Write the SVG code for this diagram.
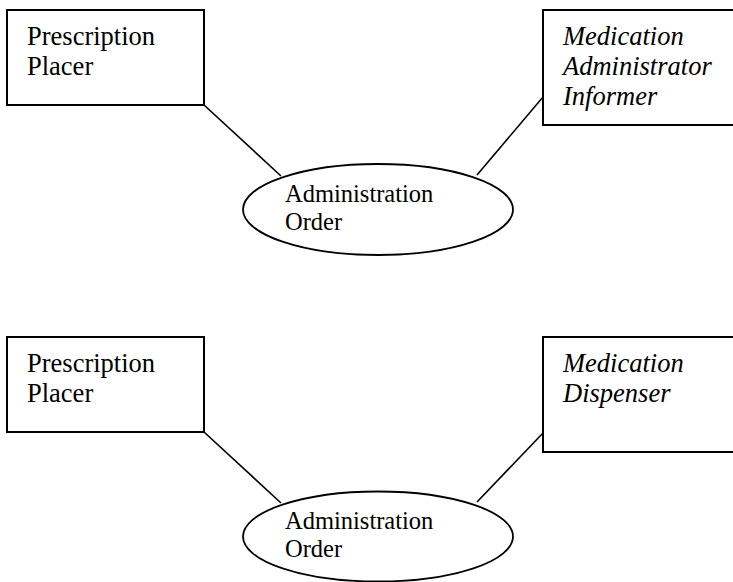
<svg xmlns="http://www.w3.org/2000/svg" width="733" height="582" viewBox="0 0 733 582">
<style>
.box{fill:#fff;stroke:#000;stroke-width:2}
.ell{fill:#fff;stroke:#000;stroke-width:1.8}
.con line{stroke:#000;stroke-width:1.6}
text{font-family:"Liberation Serif","Times New Roman",serif;fill:#000}
.bt{font-size:26.5px}
.it{font-style:italic}
.et{font-size:24.5px}
</style>
<rect width="733" height="582" fill="#fff"/>
<g id="connectors" class="con">
<line x1="204" y1="105" x2="281" y2="176"/>
<line x1="543" y1="97" x2="477" y2="175"/>
<line x1="204" y1="432" x2="281" y2="503"/>
<line x1="543" y1="433" x2="477" y2="502"/>
</g>
<g id="placer1">
<rect class="box" x="7" y="10" width="197" height="95"/>
<text class="bt" x="27" y="45">Prescription</text>
<text class="bt" x="27" y="75">Placer</text>
</g>
<g id="informer">
<rect class="box" x="543" y="10" width="200" height="115"/>
<text class="bt it" x="563" y="45">Medication</text>
<text class="bt it" x="563" y="75">Administrator</text>
<text class="bt it" x="563" y="105">Informer</text>
</g>
<g id="order1">
<ellipse class="ell" cx="378" cy="209.5" rx="135" ry="45.5"/>
<text class="et" x="285" y="202">Administration</text>
<text class="et" x="285" y="230">Order</text>
</g>
<g id="placer2">
<rect class="box" x="7" y="337" width="197" height="95"/>
<text class="bt" x="27" y="372">Prescription</text>
<text class="bt" x="27" y="402">Placer</text>
</g>
<g id="dispenser">
<rect class="box" x="543" y="337" width="200" height="115"/>
<text class="bt it" x="563" y="372">Medication</text>
<text class="bt it" x="563" y="402">Dispenser</text>
</g>
<g id="order2">
<ellipse class="ell" cx="378" cy="536.5" rx="135" ry="45"/>
<text class="et" x="285" y="529">Administration</text>
<text class="et" x="285" y="557">Order</text>
</g>
</svg>
